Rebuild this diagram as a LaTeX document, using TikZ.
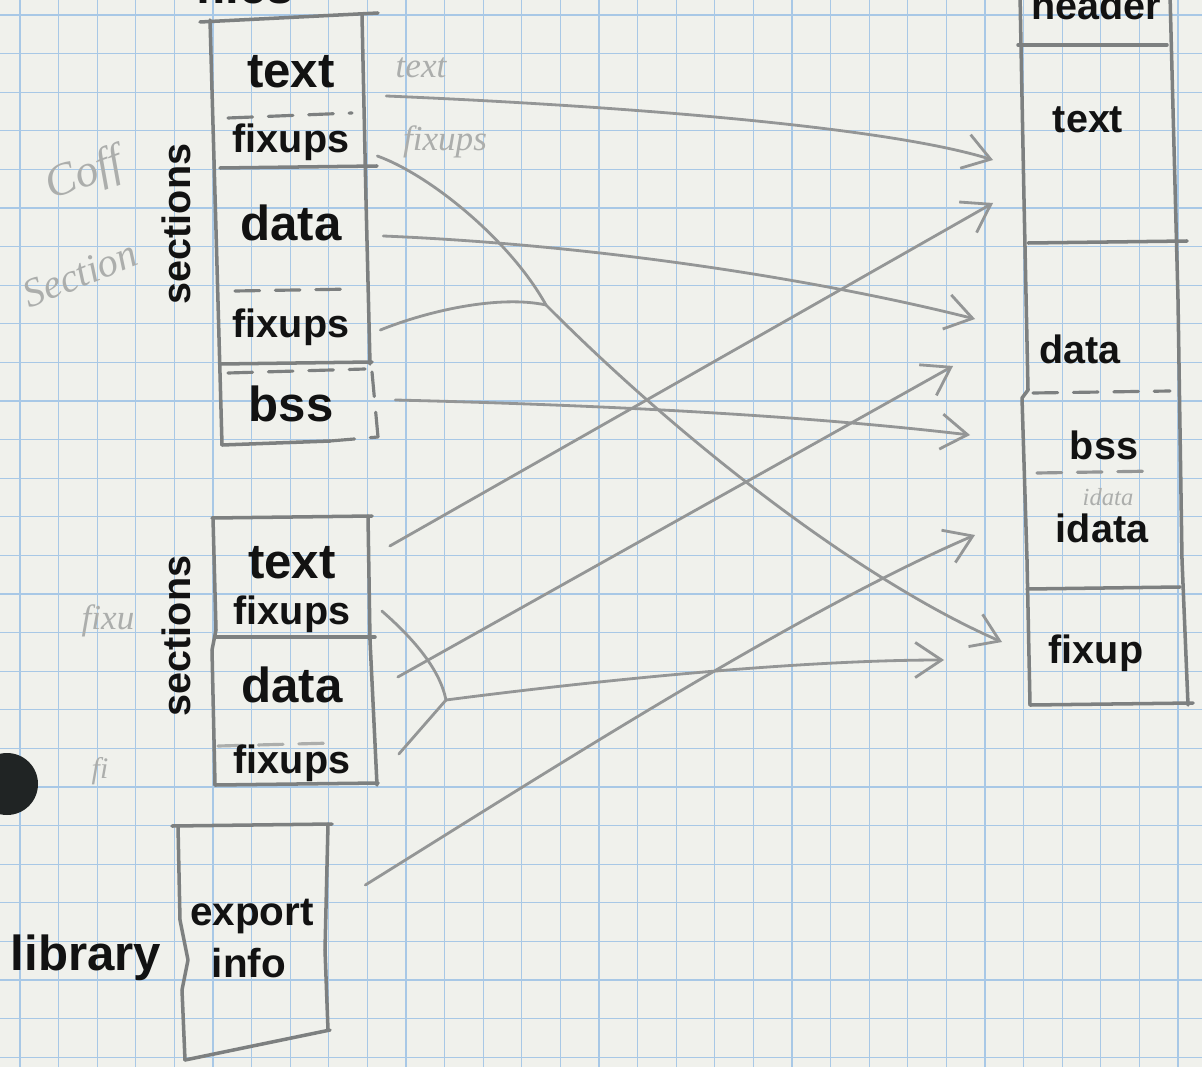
\documentclass[tikz,border=0pt]{standalone}
\usepackage{fontspec}
\setmainfont{Liberation Sans}
\newfontfamily\pencilhand{Liberation Serif}
\usetikzlibrary{arrows.meta}
\definecolor{paper}{RGB}{240,241,236}
\definecolor{gridblue}{RGB}{168,200,230}
\definecolor{pencil}{RGB}{125,128,128}
\definecolor{lead}{RGB}{148,150,150}
\definecolor{faint}{RGB}{172,174,172}
\definecolor{punch}{RGB}{32,36,36}
\definecolor{ink}{RGB}{18,18,18}

\begin{document}
\begin{tikzpicture}[x=0.02cm, y=-0.02cm,
  big/.style={font=\fontsize{28}{30}\selectfont\bfseries, text=ink, anchor=base, inner sep=0pt},
  mid/.style={font=\fontsize{22.5}{24}\selectfont\bfseries, text=ink, anchor=base, inner sep=0pt},
  upsec/.style={minimum width=3cm},
  lowsec/.style={minimum width=3.18cm},
  outline/.style={draw=pencil, line width=2pt, line cap=round, line join=round},
  dashdiv/.style={outline, line width=1.8pt, dash pattern=on 14pt off 9pt},
  link/.style={draw=lead, line width=1.6pt, line cap=round,
    -{Straight Barb[length=15pt,width=20pt,line width=1.6pt]}},
  feed/.style={draw=lead, line width=1.6pt, line cap=round},
  scrawl/.style={text=faint, font=\pencilhand\itshape\fontsize{20}{22}\selectfont, inner sep=0pt}
]
\useasboundingbox (0,0) rectangle (1202,1067);
\fill[paper] (0,0) rectangle (1202,1067);
\foreach \gx in {0,...,30}
  \draw[gridblue, line width=0.7pt] ({20+38.6*\gx},0) -- ({20+38.6*\gx},1067);
\foreach \gy in {0,...,27}
  \draw[gridblue, line width=0.7pt] (0,{15+38.6*\gy}) -- (1202,{15+38.6*\gy});

\fill[punch] (7,784) circle (31);

% erased pencil notes
\node[scrawl, font=\pencilhand\itshape\fontsize{26}{28}\selectfont, rotate=20] at (85,176) {Coff};
\node[scrawl, font=\pencilhand\itshape\fontsize{23}{25}\selectfont, rotate=22] at (80,274) {Section};
\node[scrawl] at (421,68) {text};
\node[scrawl] at (445,142) {fixups};
\node[scrawl] at (108,621) {fixu};
\node[scrawl, font=\pencilhand\itshape\fontsize{17}{19}\selectfont] at (100,771) {fi};
\node[scrawl, font=\pencilhand\itshape\fontsize{14}{16}\selectfont] at (1108,497) {idata};

% upper object file
\draw[outline] (200,22) -- (378,13);
\draw[outline] (210,20) -- (216,230) -- (222,445);
\draw[outline] (362,15) -- (366,200) -- (370,364);
\draw[dashdiv] (372,372) -- (378,437);
\draw[dashdiv] (228,118) -- (352,113);
\draw[outline] (220,168) -- (377,166);
\draw[dashdiv] (235,291) -- (355,289);
\draw[outline] (220,364) -- (372,362);
\draw[dashdiv] (228,373) -- (365,369);
\draw[outline] (222,445) -- (330,441);
\draw[dashdiv] (330,441) -- (378,437);

\node[big] at (245,4) {files};
\node[mid, rotate=90] at (190,224) {sections};
\node[big, upsec] (utext) at (291,88) {text};
\node[mid, upsec] (ufix1) at (291,153) {fixups};
\node[big, upsec] (udata) at (291,241) {data};
\node[mid, upsec] (ufix2) at (291,337) {fixups};
\node[big, upsec] (ubss) at (291,421) {bss};

% lower object file
\draw[outline] (212,518) -- (372,516);
\draw[outline] (213,518) -- (216,630) -- (212,650) -- (215,785);
\draw[outline] (368,516) -- (370,640) -- (377,785);
\draw[outline] (215,637) -- (375,637);
\draw[dashdiv, draw=faint] (218,746) -- (333,743);
\draw[outline] (215,785) -- (378,783);

\node[mid, rotate=90] at (190,636) {sections};
\node[big, lowsec] (ltext) at (292,578) {text};
\node[mid, lowsec] (lfix1) at (292,624) {fixups};
\node[big, lowsec] (ldata) at (292,702) {data};
\node[mid, lowsec] (lfix2) at (292,773) {fixups};

% library
\draw[outline] (172,826) -- (332,824);
\draw[outline] (178,826) -- (180,920) -- (188,960) -- (182,990) -- (185,1060);
\draw[outline] (328,824) -- (325,950) -- (328,1030);
\draw[outline] (185,1060) -- (330,1030);

\node[big] (libname) at (86,970) {library};
\node[mid, font=\fontsize{23}{25}\selectfont\bfseries, upsec] (lexport) at (252,925) {export};
\node[mid, font=\fontsize{23}{25}\selectfont\bfseries] (linfo) at (249,977) {info};

% output image
\draw[outline] (1020,-5) -- (1024,200) -- (1028,390) -- (1022,398) -- (1027,560) -- (1030,705);
\draw[outline] (1170,-5) -- (1178,300) -- (1182,560) -- (1188,705);
\draw[outline] (1018,45) -- (1167,45);
\draw[outline] (1028,243) -- (1187,241);
\draw[dashdiv] (1033,393) -- (1170,391);
\draw[dashdiv, draw=lead] (1037,473) -- (1157,471);
\draw[outline] (1027,589) -- (1180,587);
\draw[outline] (1030,705) -- (1193,703);

\node[mid] (oheader) at (1096,20) {header};
\node[mid] (otext) at (1088,133) {text};
\node[mid] (odata) at (1080,363) {data};
\node[mid] (obss) at (1104,459) {bss};
\node[mid] (oidata) at (1102,542) {idata};
\node[mid] (ofixup) at (1096,663) {fixup};

\coordinate (otext-a) at (993,160);
\coordinate (otext-b) at (993,203);
\coordinate (odata-a) at (975,319);
\coordinate (odata-b) at (953,366);
\coordinate (obss-in) at (970,435);
\coordinate (oidata-in) at (975,535);
\coordinate (ofix-a) at (1002,642);
\coordinate (ofix-b) at (944,660);
\coordinate (ujoin) at (546,305);
\coordinate (ljoin) at (446,700);

\draw[link] ([shift={(20,8)}]utext.base east) .. controls (600,105) and (880,125) .. (otext-a);
\draw[link] ([shift={(17,-5)}]udata.base east) .. controls (600,245) and (820,280) .. (odata-a);
\draw[link] ([shift={(29,-21)}]ubss.base east) .. controls (600,405) and (800,415) .. (obss-in);
\draw[feed] ([shift={(11,3)}]ufix1.base east) .. controls (430,175) and (510,240) .. (ujoin);
\draw[feed] ([shift={(14,-7)}]ufix2.base east) .. controls (430,310) and (500,295) .. (ujoin);
\draw[link] (ujoin) .. controls (680,440) and (860,580) .. (ofix-a);

\draw[link] ([shift={(18,-32)}]ltext.base east) -- (otext-b);
\draw[link] ([shift={(26,-25)}]ldata.base east) -- (odata-b);
\draw[feed] ([shift={(10,-13)}]lfix1.base east) .. controls (415,640) and (440,670) .. (ljoin);
\draw[feed] ([shift={(27,-19)}]lfix2.base east) -- (ljoin);
\draw[link] (ljoin) .. controls (600,680) and (800,660) .. (ofix-b);
\draw[link] ([shift={(38,-40)}]lexport.base east) .. controls (550,770) and (800,610) .. (oidata-in);
\end{tikzpicture}
\end{document}
